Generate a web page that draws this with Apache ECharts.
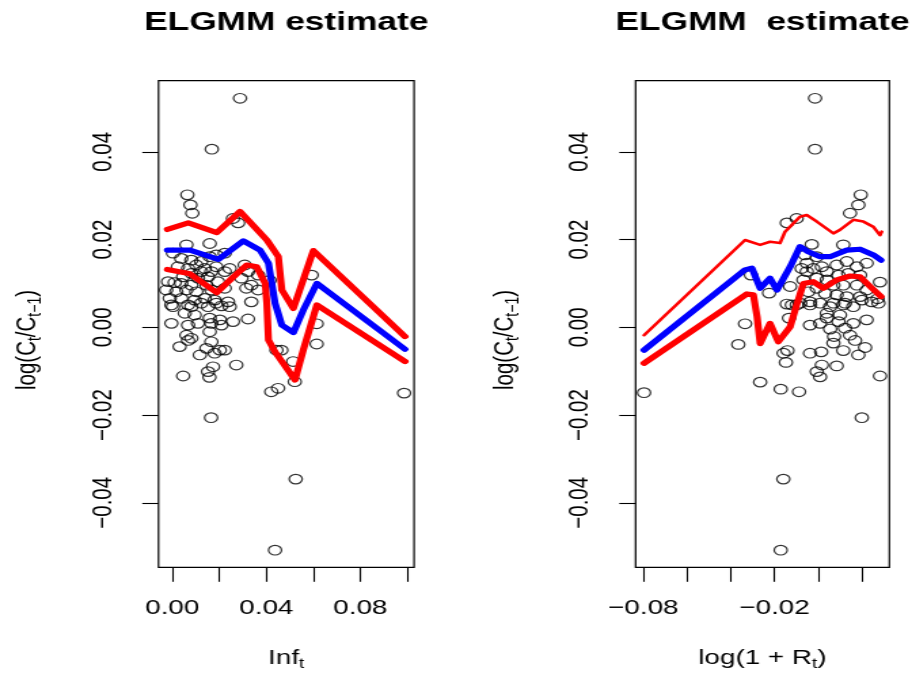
<!DOCTYPE html>
<html><head><meta charset="utf-8">
<script src="https://cdn.jsdelivr.net/npm/echarts@6/dist/echarts.min.js"></script>
<style>
html,body{margin:0;padding:0;background:#fff;overflow:hidden}
#wrap{width:912px;height:681px;overflow:hidden}
#c{width:672px;height:681px;transform:scaleX(1.357143);transform-origin:0 0}
</style>
</head><body><div id="wrap"><div id="c"></div></div>
<script>
// ---------- data ----------
var leftTitle = 'ELGMM estimate';
var rightTitle = 'ELGMM  estimate';
var yTicks = [-0.04, -0.02, 0, 0.02, 0.04];
var leftXTicks = [0, 0.02, 0.04, 0.06, 0.08, 0.10];
var leftXLabels = [0, 0.04, 0.08];
var rightXTicks = [-0.08, -0.06, -0.04, -0.02, 0, 0.02];
var rightXLabels = [-0.08, -0.02];

var leftPoints = [[0.0288,0.0522],[0.0168,0.0406],[0.0064,0.0302],[0.0077,0.0279],[0.0085,0.0260],[0.0258,0.0248],[0.0280,0.0238],[0.0593,0.0119],[0.0414,0.0107],[0.0060,0.0188],[0.0159,0.0191],[0.0003,0.0169],[0.0223,0.0169],[0.0187,0.0165],[0.0038,0.0157],[0.0081,0.0153],[0.0123,0.0150],[0.0159,0.0161],[0.0024,0.0138],[0.0067,0.0134],[0.0102,0.0142],[0.0138,0.0134],[0.0187,0.0138],[0.0244,0.0134],[0.0308,0.0142],[0.0081,0.0123],[0.0123,0.0127],[0.0166,0.0127],[0.0223,0.0127],[0.0322,0.0127],[0.0046,0.0115],[0.0109,0.0112],[0.0152,0.0115],[0.0194,0.0104],[0.0294,0.0112],[0.0365,0.0119],[-0.0018,0.0104],[0.0010,0.0102],[0.0038,0.0100],[0.0081,0.0096],[0.0145,0.0096],[0.0336,0.0096],[-0.0026,0.0085],[0.0017,0.0081],[0.0060,0.0085],[0.0102,0.0081],[0.0166,0.0085],[0.0223,0.0089],[0.0315,0.0089],[0.0365,0.0085],[-0.0011,0.0066],[0.0038,0.0066],[0.0095,0.0062],[0.0138,0.0066],[0.0180,0.0062],[0.0237,0.0058],[0.0336,0.0058],[0.0003,0.0047],[0.0081,0.0047],[0.0152,0.0047],[0.0209,0.0049],[-0.0004,0.0051],[0.0067,0.0051],[0.0123,0.0055],[0.0187,0.0055],[0.0244,0.0047],[0.0053,0.0032],[0.0095,0.0028],[0.0159,0.0021],[0.0202,0.0017],[-0.0004,0.0009],[0.0067,0.0005],[0.0109,0.0009],[0.0166,0.0009],[0.0209,0.0005],[0.0258,0.0013],[0.0322,0.0019],[0.0159,-0.0010],[0.0060,-0.0018],[0.0081,-0.0025],[0.0067,-0.0030],[0.0166,-0.0033],[0.0031,-0.0044],[0.0145,-0.0048],[0.0202,-0.0052],[0.0223,-0.0052],[0.0117,-0.0063],[0.0180,-0.0059],[0.0443,-0.0052],[0.0464,-0.0052],[0.0514,-0.0078],[0.0272,-0.0086],[0.0173,-0.0090],[0.0046,-0.0111],[0.0152,-0.0101],[0.0158,-0.0114],[0.0521,-0.0124],[0.0450,-0.0139],[0.0421,-0.0147],[0.0614,0.0008],[0.0614,-0.0038],[0.0986,-0.0150],[0.0165,-0.0206],[0.0525,-0.0346],[0.0437,-0.0508]];

var rightPoints = [[-0.0015,0.0522],[-0.0015,0.0406],[0.0194,0.0302],[0.0183,0.0279],[0.0145,0.0260],[-0.0144,0.0238],[-0.0099,0.0248],[-0.0030,0.0189],[0.0114,0.0188],[-0.0308,0.0119],[-0.0225,0.0078],[-0.0129,0.0093],[0.0282,0.0103],[0.0271,0.0065],[-0.0335,0.0008],[-0.0144,0.0053],[-0.0134,0.0021],[-0.0797,-0.0149],[-0.0366,-0.0039],[-0.0266,-0.0125],[-0.0172,-0.0141],[-0.0088,-0.0147],[-0.0160,-0.0346],[-0.0172,-0.0508],[0.0199,-0.0206],[0.0282,-0.0111],[-0.0159,-0.0059],[-0.0141,-0.0053],[-0.0148,-0.0080],[-0.0038,-0.0059],[0.0013,-0.0056],[0.0016,-0.0086],[0.0084,-0.0088],[-0.0007,-0.0101],[0.0008,-0.0113],[0.0114,-0.0053],[0.0183,-0.0063],[0.0214,-0.0046],[0.0145,-0.0018],[0.0168,-0.0030],[0.0069,-0.0036],[0.0072,-0.0021],[0.0054,-0.0004],[0.0122,-0.0002],[0.0221,0.0017],[0.0160,0.0009],[0.0092,0.0013],[0.0039,0.0021],[0.0008,0.0009],[-0.0038,0.0005],[-0.0099,0.0051],[-0.0038,0.0051],[0.0008,0.0055],[0.0054,0.0047],[0.0114,0.0051],[0.0160,0.0047],[0.0199,0.0062],[0.0039,0.0032],[0.0099,0.0028],[-0.0061,0.0165],[-0.0007,0.0161],[-0.0053,0.0146],[-0.0023,0.0134],[-0.0076,0.0134],[-0.0053,0.0127],[0.0016,0.0138],[0.0039,0.0127],[0.0084,0.0142],[0.0130,0.0150],[0.0176,0.0138],[0.0221,0.0146],[0.0092,0.0119],[0.0137,0.0123],[0.0191,0.0119],[-0.0007,0.0112],[0.0039,0.0108],[-0.0068,0.0108],[0.0069,0.0096],[0.0114,0.0096],[0.0176,0.0096],[0.0221,0.0085],[-0.0007,0.0089],[-0.0046,0.0081],[0.0031,0.0077],[0.0084,0.0074],[0.0130,0.0070],[0.0191,0.0070],[-0.0038,0.0058],[0.0069,0.0055],[0.0122,0.0055],[-0.0083,0.0055],[-0.0121,0.0051],[0.0244,0.0058],[0.0275,0.0055]];

var leftUpper = [[-0.0021,0.0223],[0.0068,0.0238],[0.0189,0.0216],[0.0288,0.0264],[0.0402,0.0199],[0.0451,0.0161],[0.0466,0.0085],[0.0515,0.0043],[0.0600,0.0175],[0.0990,-0.0021]];
var leftMid = [[-0.0021,0.0176],[0.0075,0.0176],[0.0196,0.0155],[0.0302,0.0197],[0.0373,0.0176],[0.0409,0.0146],[0.0437,0.0055],[0.0466,0.0005],[0.0515,-0.0012],[0.0557,0.0039],[0.0615,0.0100],[0.0990,-0.0050]];
var leftLower = [[-0.0021,0.0132],[0.0075,0.0122],[0.0189,0.0079],[0.0260,0.0115],[0.0317,0.0142],[0.0359,0.0138],[0.0395,0.0100],[0.0402,0.0055],[0.0409,-0.0029],[0.0437,-0.0056],[0.0522,-0.0120],[0.0557,-0.0052],[0.0615,0.0051],[0.0990,-0.0078]];

var rightUpper = [[-0.0797,-0.0018],[-0.0335,0.0199],[-0.0266,0.0188],[-0.0221,0.0195],[-0.0175,0.0192],[-0.0152,0.0218],[-0.0084,0.0252],[-0.0053,0.0256],[-0.0007,0.0241],[0.0069,0.0214],[0.0099,0.0222],[0.0160,0.0245],[0.0206,0.0241],[0.0252,0.0229],[0.0282,0.0210],[0.0290,0.0218]];
var rightMid = [[-0.0797,-0.0052],[-0.0335,0.0131],[-0.0304,0.0135],[-0.0266,0.0089],[-0.0221,0.0112],[-0.0189,0.0085],[-0.0129,0.0138],[-0.0084,0.0184],[-0.0046,0.0172],[0.0008,0.0161],[0.0054,0.0161],[0.0130,0.0176],[0.0191,0.0178],[0.0252,0.0165],[0.0287,0.0153]];
var rightLower = [[-0.0797,-0.0082],[-0.0327,0.0076],[-0.0297,0.0074],[-0.0280,0.0024],[-0.0266,-0.0037],[-0.0221,0.0009],[-0.0183,-0.0033],[-0.0129,0.0001],[-0.0099,0.0051],[-0.0068,0.0100],[-0.0023,0.0104],[0.0023,0.0089],[0.0084,0.0108],[0.0145,0.0117],[0.0191,0.0115],[0.0237,0.0093],[0.0287,0.0070]];

// ---------- chart ----------
var FONT = '"Liberation Sans", Arial, Helvetica, sans-serif';
function fmt(v) { return (v < 0 ? '\u2212' : '') + Math.abs(v).toFixed(2); }

function xAxisDef(gi, min, max, ticks, labels) {
  return {
    gridIndex: gi, type: 'value', min: min, max: max, position: 'bottom',
    axisLine: { show: false, onZero: false }, splitLine: { show: false },
    axisTick: { show: true, length: 14.5, customValues: ticks, lineStyle: { color: '#000', width: 1.1 } },
    axisLabel: { customValues: labels, margin: 31, fontSize: 20.5, fontFamily: FONT, color: '#000', formatter: fmt }
  };
}
function yAxisDef(gi) {
  return {
    gridIndex: gi, type: 'value', min: -0.0547, max: 0.05621, position: 'left',
    axisLine: { show: false, onZero: false }, splitLine: { show: false },
    axisTick: { show: true, length: 12, customValues: yTicks, lineStyle: { color: '#000', width: 1.1 } },
    axisLabel: { customValues: yTicks, rotate: 90, margin: 30, fontSize: 20.5, fontFamily: FONT, color: '#000', formatter: fmt }
  };
}
function scatter(ai, pts) {
  return {
    type: 'scatter', xAxisIndex: ai, yAxisIndex: ai, data: pts, symbol: 'circle', symbolSize: 9.6,
    itemStyle: { color: 'rgba(0,0,0,0)', borderColor: '#000', borderWidth: 1.2 },
    silent: true, z: 2
  };
}
function curve(ai, pts, color, w) {
  return {
    type: 'line', xAxisIndex: ai, yAxisIndex: ai, data: pts, showSymbol: false, symbol: 'none',
    lineStyle: { color: color, width: w, cap: 'round', join: 'round' }, silent: true, z: 3
  };
}
var subRich = {
  m: { fontSize: 20.5, fontFamily: FONT, lineHeight: 26, verticalAlign: 'middle', color: '#000' },
  s: { fontSize: 14, fontFamily: FONT, verticalAlign: 'bottom', color: '#000' }
};
function label(x, y, text, rot) {
  return {
    type: 'text', x: x, y: y, rotation: rot || 0, silent: true,
    style: { text: text, rich: subRich, fill: '#000', align: 'center', verticalAlign: 'middle',
             textAlign: 'center', textVerticalAlign: 'middle', fontSize: 20.5, fontFamily: FONT }
  };
}
function title(x, text) {
  return {
    type: 'text', x: x, y: 23, silent: true,
    style: { text: text, fill: '#000', fontSize: 26, fontWeight: 'bold', fontFamily: FONT,
             align: 'center', verticalAlign: 'middle', textAlign: 'center', textVerticalAlign: 'middle' }
  };
}

var chart = echarts.init(document.getElementById('c'), null, { width: 672, height: 681 });
chart.setOption({
  animation: false,
  backgroundColor: '#fff',
  grid: [
    { left: 116.8, top: 80.7, width: 188.3, height: 486.6, show: true, borderColor: '#000', borderWidth: 1.2, backgroundColor: 'transparent' },
    { left: 468.3, top: 80.7, width: 187.0, height: 486.6, show: true, borderColor: '#000', borderWidth: 1.2, backgroundColor: 'transparent' }
  ],
  xAxis: [
    xAxisDef(0, -0.00587, 0.10285, leftXTicks, leftXLabels),
    xAxisDef(1, -0.08357, 0.03248, rightXTicks, rightXLabels)
  ],
  yAxis: [yAxisDef(0), yAxisDef(1)],
  series: [
    scatter(0, leftPoints),
    curve(0, leftMid, '#0000FF', 5.2),
    curve(0, leftUpper, '#FF0000', 5.2),
    curve(0, leftLower, '#FF0000', 5.2),
    scatter(1, rightPoints),
    curve(1, rightMid, '#0000FF', 5.2),
    curve(1, rightUpper, '#FF0000', 2.6),
    curve(1, rightLower, '#FF0000', 5.2)
  ],
  graphic: [
    title(210.9, leftTitle),
    title(561.8, rightTitle),
    label(210.9, 658, '{m|Inf}{s|t}'),
    label(561.8, 658, '{m|log(1 + R}{s|t}{m|)}'),
    label(20.6, 340, '{m|log(C}{s|t}{m|/C}{s|t\u22121}{m|)}', Math.PI / 2),
    label(372.1, 340, '{m|log(C}{s|t}{m|/C}{s|t\u22121}{m|)}', Math.PI / 2)
  ]
});
</script></body></html>
